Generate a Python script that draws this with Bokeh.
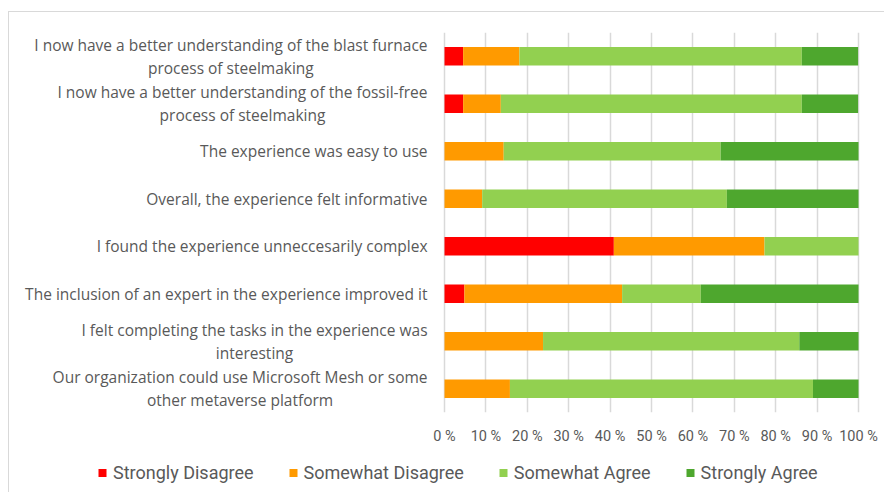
from bokeh.plotting import figure
from bokeh.layouts import column
from bokeh.models import FactorRange, Range1d, Legend, LegendItem, FixedTicker, ColumnDataSource
from bokeh.core.properties import value
from bokeh.embed import file_html
from bokeh.resources import INLINE

questions = [
    "I now have a better understanding of the blast furnace\nprocess of steelmaking",
    "I now have a better understanding of the fossil-free\nprocess of steelmaking",
    "The experience was easy to use",
    "Overall, the experience felt informative",
    "I found the experience unneccesarily complex",
    "The inclusion of an expert in the experience improved it",
    "I felt completing the tasks in the experience was\ninteresting",
    "Our organization could use Microsoft Mesh or some\nother metaverse platform",
]
series = ["Strongly Disagree", "Somewhat Disagree", "Somewhat Agree", "Strongly Agree"]
strongly_disagree = [4.5, 4.5, 0.0, 0.0, 40.9, 4.8, 0.0, 0.0]
somewhat_disagree = [13.6, 9.1, 14.3, 9.1, 36.4, 38.1, 23.8, 15.8]
somewhat_agree = [68.2, 72.7, 52.4, 59.1, 22.7, 19.0, 61.9, 73.2]
strongly_agree = [13.6, 13.6, 33.3, 31.8, 0.0, 38.1, 14.3, 11.0]
colors = ["#FF0000", "#FF9A00", "#92D050", "#4EA72E"]
tick_values = [0, 10, 20, 30, 40, 50, 60, 70, 80, 90, 100]
tick_labels = ["0 %", "10 %", "20 %", "30 %", "40 %", "50 %", "60 %", "70 %", "80 %", "90 %", "100 %"]

data = {"q": questions, "zero": [0] * len(questions),
        "Strongly Disagree": strongly_disagree, "Somewhat Disagree": somewhat_disagree,
        "Somewhat Agree": somewhat_agree, "Strongly Agree": strongly_agree}
src = ColumnDataSource(data)

# frame spans the label area too; 0..100 maps onto the bar area
px_per_unit = 4.14
x_end = 100.48
frame_w = 851
p = figure(y_range=FactorRange(factors=list(reversed(questions)), range_padding=0),
           x_range=Range1d(x_end - frame_w / px_per_unit, x_end),
           width=875, height=440, output_backend="svg", toolbar_location=None,
           y_axis_location=None,
           min_border_left=0, min_border_right=24, min_border_top=20, min_border_bottom=40)

renderers = p.hbar_stack(series, y="q", height=0.39, color=colors, source=src, line_color=None)

p.text(x="zero", y="q", text="q", source=src, x_offset=-17,
       anchor="center_right", text_align="center", text_baseline="middle",
       text_font=value("Open Sans"), text_font_size="15.5px", text_color="#595959",
       text_line_height=1.04)

p.outline_line_color = None
p.background_fill_color = "white"
p.border_fill_color = "white"
p.ygrid.grid_line_color = None
p.xgrid.grid_line_color = "#d9d9d9"
p.xgrid.grid_line_width = 1.5
p.xgrid.level = "underlay"

p.xaxis.ticker = FixedTicker(ticks=tick_values)
p.xaxis.major_label_overrides = {v: l for v, l in zip(tick_values, tick_labels)}
p.xaxis.axis_line_color = None
p.xaxis.major_tick_line_color = None
p.xaxis.minor_tick_line_color = None
p.xaxis.major_tick_out = 0
p.xaxis.major_tick_in = 0
p.xaxis.major_label_standoff = 15
p.xaxis.major_label_text_font = "Roboto"
p.xaxis.major_label_text_font_size = "14.5px"
p.xaxis.major_label_text_color = "#595959"

# legend strip underneath; swatch glyphs sit outside the strip's visible range
p2 = figure(width=875, height=40, x_range=Range1d(0, 1), y_range=Range1d(0, 1),
            output_backend="svg", toolbar_location=None,
            x_axis_location=None, y_axis_location=None,
            min_border_left=0, min_border_right=0, min_border_top=0, min_border_bottom=0)
p2.grid.visible = False
p2.outline_line_color = None
p2.border_fill_color = "white"
swatches = [p2.quad(left=[-3], right=[-2], top=[-2], bottom=[-3], color=c, line_color=None)
            for c in colors]
items = [LegendItem(label=s, renderers=[r]) for s, r in zip(series, swatches)]
legend = Legend(items=items, orientation="horizontal", location="center_left",
                glyph_width=10, glyph_height=10, label_standoff=6, spacing=34,
                padding=0, margin=88, border_line_color=None, background_fill_alpha=0,
                label_text_font="Roboto", label_text_font_size="18px", label_text_color="#595959")
p2.add_layout(legend, "center")

layout = column(p, p2, spacing=0)
layout.styles = {"border-top": "1px solid #d9d9d9", "border-left": "1px solid #d9d9d9",
                 "margin-top": "11px", "margin-left": "8px"}

open("out.html", "w").write(file_html(layout, INLINE))
